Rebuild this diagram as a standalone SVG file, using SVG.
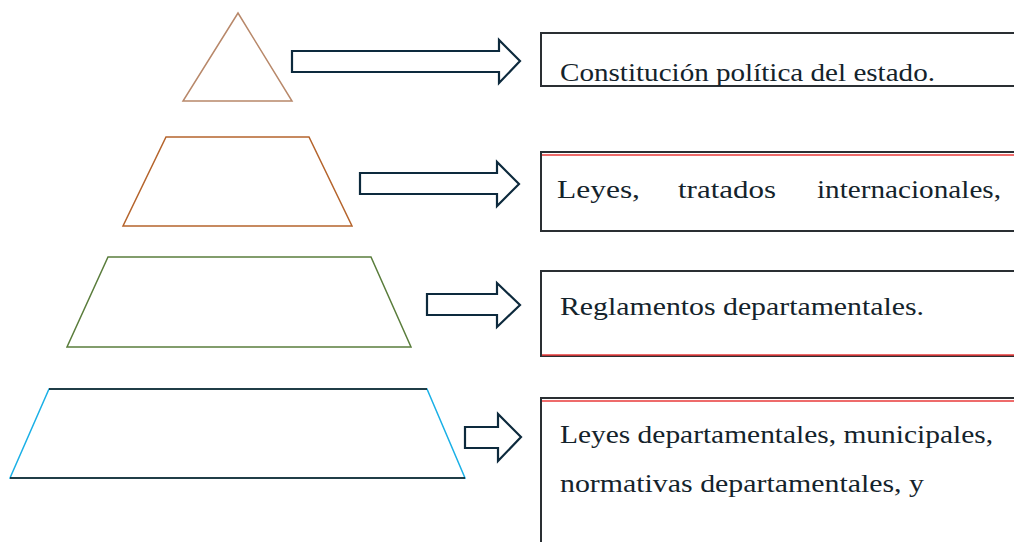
<svg xmlns="http://www.w3.org/2000/svg" width="1014" height="542" viewBox="0 0 1014 542">
<style>
.lvl{fill:none;stroke-width:1.5;stroke-linejoin:miter}
.arrow{fill:#fff;stroke:#0d2a3d;stroke-width:2.2;stroke-linejoin:miter}
.box{fill:#fff;stroke:#2a2f33;stroke-width:2}
.red{stroke:#e83a3a;stroke-width:1.5;fill:none}
.txt{font-family:"Liberation Serif","Times New Roman","DejaVu Serif",serif;font-size:26px;fill:#14232b}
</style>
<rect width="1014" height="542" fill="#fff"/>
<g id="level1">
<polygon class="lvl" points="238,13 292,101 183,101" stroke="#b8886a"/>
</g>
<g id="level2">
<polygon class="lvl" points="166,137 309,137 352,226 123,226" stroke="#b5642c"/>
</g>
<g id="level3">
<polygon class="lvl" points="108,257 371,257 411,347 67,347" stroke="#5a7d3c"/>
</g>
<g id="level4">
<polygon class="lvl" points="49,389 427,389 465,478 10,478" stroke="#1ab0e6"/>
<line x1="49" y1="389" x2="427" y2="389" stroke="#111" stroke-width="1.5"/>
<line x1="10" y1="478" x2="465" y2="478" stroke="#111" stroke-width="1.5"/>
</g>
<g id="connectors">
<polygon class="arrow" points="292,51 499,51 499,40 520,61 499,83 499,72 292,72"/>
<polygon class="arrow" points="360,173 497,173 497,162 519,184 497,206 497,194 360,194"/>
<polygon class="arrow" points="427,294 497,294 497,283 520,305 497,327 497,315 427,315"/>
<polygon class="arrow" points="465,427 498,427 498,414 521,437 498,461 498,448 465,448"/>
</g>
<g id="box1">
<rect class="box" x="541" y="33" width="480" height="53"/>
<text class="txt" x="560" y="81" textLength="375" lengthAdjust="spacingAndGlyphs">Constitución política del estado.</text>
</g>
<g id="box2">
<rect class="box" x="541" y="152" width="480" height="79"/>
<line class="red" x1="542" y1="155" x2="1014" y2="155"/>
<text class="txt" x="557" y="198" textLength="83" lengthAdjust="spacingAndGlyphs">Leyes,</text>
<text class="txt" x="678" y="198" textLength="98" lengthAdjust="spacingAndGlyphs">tratados</text>
<text class="txt" x="817" y="198" textLength="184" lengthAdjust="spacingAndGlyphs">internacionales,</text>
</g>
<g id="box3">
<rect class="box" x="541" y="271" width="480" height="85"/>
<line class="red" x1="542" y1="355" x2="1014" y2="355"/>
<text class="txt" x="560" y="315" textLength="364" lengthAdjust="spacingAndGlyphs">Reglamentos departamentales.</text>
</g>
<g id="box4">
<rect class="box" x="541" y="398" width="480" height="160"/>
<line class="red" x1="542" y1="401" x2="1014" y2="401"/>
<text class="txt" x="560" y="443" textLength="433" lengthAdjust="spacingAndGlyphs">Leyes departamentales, municipales,</text>
<text class="txt" x="560" y="492" textLength="364" lengthAdjust="spacingAndGlyphs">normativas departamentales, y</text>
</g>
</svg>
